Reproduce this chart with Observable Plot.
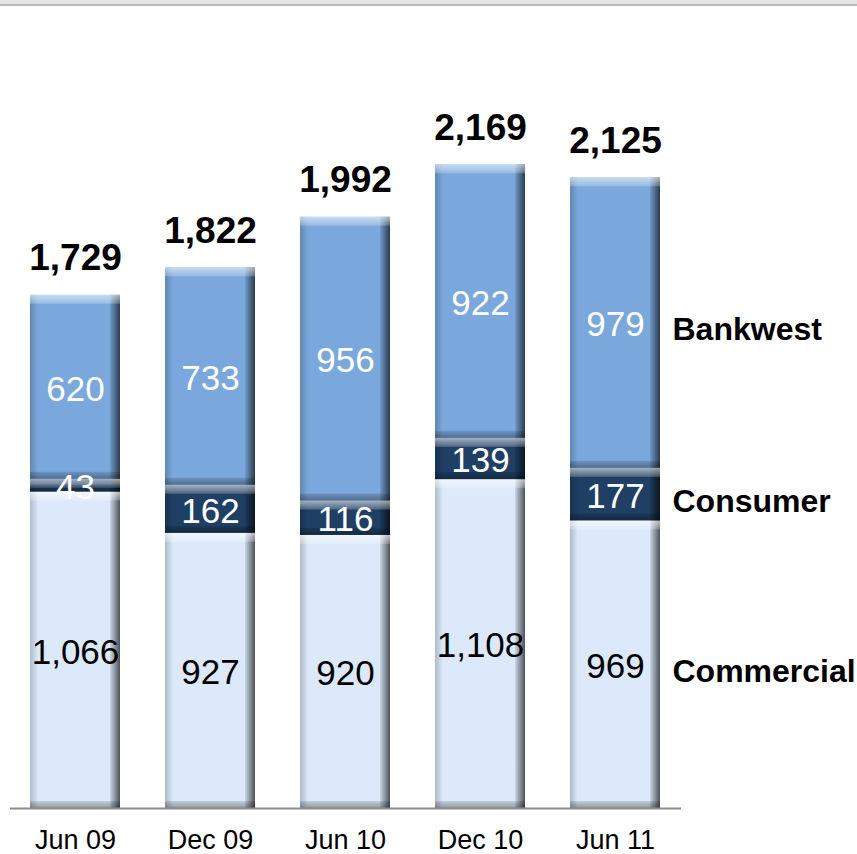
<!DOCTYPE html>
<html>
<head>
<meta charset="utf-8">
<script src="https://cdn.jsdelivr.net/npm/d3@7"></script>
<script src="https://cdn.jsdelivr.net/npm/@observablehq/plot@0.6"></script>
<style>
  html, body { margin: 0; padding: 0; background: #fff; }
  #wrap { position: relative; width: 857px; height: 854px; overflow: hidden; }
  #topbar { position: absolute; left: 0; top: 0; width: 857px; height: 4px; background: #e6e6e6; border-bottom: 2px solid #bcbcbc; }
  svg { font-family: "Liberation Sans", Arial, sans-serif; }
</style>
</head>
<body>
<svg width="0" height="0" style="position:absolute">
  <defs>
    <linearGradient id="gTop" x1="0" y1="0" x2="0" y2="1">
      <stop offset="0" stop-color="#ffffff" stop-opacity="0.6"/>
      <stop offset="1" stop-color="#ffffff" stop-opacity="0.2"/>
    </linearGradient>
    <linearGradient id="gBottom" x1="0" y1="0" x2="0" y2="1">
      <stop offset="0" stop-color="#000000" stop-opacity="0.12"/>
      <stop offset="1" stop-color="#000000" stop-opacity="0.35"/>
    </linearGradient>
    <linearGradient id="gRight" x1="0" y1="0" x2="1" y2="0">
      <stop offset="0" stop-color="#000000" stop-opacity="0.08"/>
      <stop offset="1" stop-color="#000000" stop-opacity="0.65"/>
    </linearGradient>
    <linearGradient id="gLeft" x1="0" y1="0" x2="1" y2="0">
      <stop offset="0" stop-color="#000000" stop-opacity="0.2"/>
      <stop offset="1" stop-color="#000000" stop-opacity="0"/>
    </linearGradient>
  </defs>
</svg>
<div id="wrap"><div id="topbar"></div></div>
<script>
const categories = ["Jun 09", "Dec 09", "Jun 10", "Dec 10", "Jun 11"];
const commercial = [1066, 927, 920, 1108, 969];
const consumer   = [43, 162, 116, 139, 177];
const bankwest   = [620, 733, 956, 922, 979];
const totals     = [1729, 1822, 1992, 2169, 2125];
const seriesNames = ["Commercial", "Consumer", "Bankwest"];

const seriesValues = [commercial, consumer, bankwest];
const fills = { Commercial: "#dbe9fa", Consumer: "#1f3f64", Bankwest: "#7aa8dc" };
const labelColors = { Commercial: "#000000", Consumer: "#ffffff", Bankwest: "#ffffff" };

// stacked rows
const rows = [];
categories.forEach((c, i) => {
  let base = 0;
  seriesNames.forEach((s, k) => {
    const v = seriesValues[k][i];
    rows.push({ cat: c, series: s, value: v, y1: base, y2: base + v, mid: base + v / 2 });
    base += v;
  });
});
const totalRows = categories.map((c, i) => ({ cat: c, total: totals[i] }));
const lastCat = categories[categories.length - 1];
const legendRows = rows.filter(r => r.cat === lastCat);

const fmt = d3.format(",");
const marks = [];
for (const s of seriesNames) {
  const data = rows.filter(r => r.series === s);
  marks.push(Plot.barY(data, { x: "cat", y1: "y1", y2: "y2", fill: fills[s] }));
  // bevel: left, right, top, bottom
  marks.push(Plot.barY(data, { x: "cat", y1: "y1", y2: "y2", fill: "url(#gLeft)", insetRight: 82 }));
  marks.push(Plot.barY(data, { x: "cat", y1: "y1", y2: "y2", fill: "url(#gRight)", insetLeft: 80 }));
  marks.push(Plot.barY(data, { x: "cat", y1: "y2", y2: "y2", fill: "url(#gTop)", insetBottom: -9 }));
  marks.push(Plot.barY(data, { x: "cat", y1: "y1", y2: "y1", fill: "url(#gBottom)", insetTop: -7 }));
}
marks.push(Plot.ruleY([0], { stroke: "#8c8c8c", strokeWidth: 2 }));
for (const s of seriesNames) {
  marks.push(Plot.text(rows.filter(r => r.series === s), {
    x: "cat", y: "mid", text: d => fmt(d.value), fill: labelColors[s],
    fontSize: 35, lineAnchor: "middle", dy: 2
  }));
}
marks.push(Plot.text(totalRows, {
  x: "cat", y: "total", text: d => fmt(d.total), fill: "#000",
  fontSize: 37, fontWeight: "bold", lineAnchor: "middle", dy: -37
}));
marks.push(Plot.text(legendRows, {
  x: "cat", y: "mid", text: "series", fill: "#000",
  fontSize: 32, fontWeight: "bold", textAnchor: "start", lineAnchor: "middle", dx: 57, dy: 7
}));
marks.push(Plot.axisX({ tickSize: 0, tickPadding: 21, fontSize: 27, label: null, fill: "#000" }));

const chart = Plot.plot({
  width: 857,
  height: 854,
  marginLeft: 10,
  marginRight: 176,
  marginTop: 0,
  marginBottom: 46,
  style: { fontFamily: "'Liberation Sans', Arial, sans-serif", background: "#fff", color: "#000", overflow: "visible" },
  x: { domain: categories, range: [7.5, 682.5], paddingInner: 1 / 3, paddingOuter: 1 / 6, axis: null },
  y: { domain: [0, 2500], range: [808, 808 - 2500 * 0.2968], axis: null },
  marks
});
document.getElementById("wrap").prepend(chart);
</script>
</body>
</html>
